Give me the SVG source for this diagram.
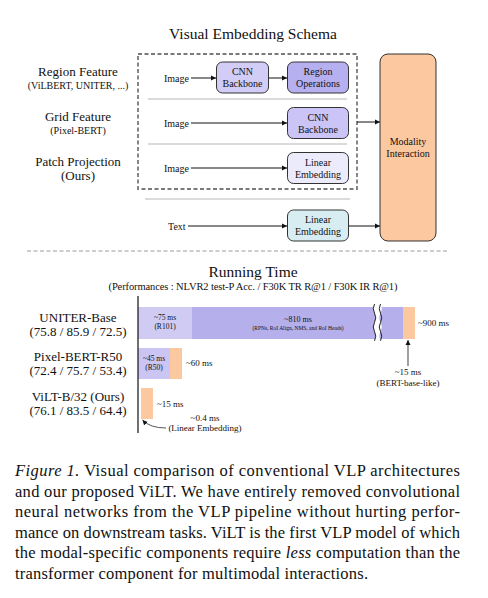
<svg xmlns="http://www.w3.org/2000/svg" width="488" height="598" viewBox="0 0 488 598" font-family="'Liberation Serif','Times New Roman','DejaVu Serif',serif">
<style>
text{font-family:"Liberation Serif","Times New Roman","DejaVu Serif",serif;fill:#111}
.t10{font-size:10px}
.lbl{font-size:13px;text-anchor:middle}
.sub{font-size:10px;text-anchor:middle}
.box{stroke:#333;stroke-width:1}
.c{text-anchor:middle}
.ln{stroke:#111;stroke-width:1;fill:none}
.sep{stroke:#cfcfcf;stroke-width:1.5}
.cap{font-size:16.5px}
</style>
<defs>
<marker id="ah" markerWidth="6" markerHeight="6" refX="5" refY="3" orient="auto" markerUnits="userSpaceOnUse">
<path d="M0,0.5 L5,3 L0,5.5 Z" fill="#111"/>
</marker>
</defs>
<rect width="488" height="598" fill="#fff"/>

<text x="253" y="39" font-size="15.5" text-anchor="middle">Visual Embedding Schema</text>

<g id="labels-left">
<text class="lbl" x="78" y="76">Region Feature</text>
<text class="sub" x="78" y="89">(ViLBERT, UNITER, ...)</text>
<text class="lbl" x="78" y="121">Grid Feature</text>
<text class="sub" x="78" y="134">(Pixel-BERT)</text>
<text class="lbl" x="78" y="166">Patch Projection</text>
<text class="lbl" x="78" y="180" font-size="12">(Ours)</text>
</g>

<rect id="visual-box" x="138" y="54" width="219" height="135" fill="none" stroke="#7a7a7a" stroke-width="1.8" stroke-dasharray="4,2.5"/>
<line class="sep" x1="148" y1="99" x2="347" y2="99"/>
<line class="sep" x1="148" y1="144" x2="347" y2="144"/>
<line class="sep" x1="145" y1="199" x2="350" y2="199"/>

<g id="connectors">
<line class="ln" x1="191" y1="78" x2="216" y2="78" marker-end="url(#ah)"/>
<line class="ln" x1="269" y1="78" x2="287" y2="78" marker-end="url(#ah)"/>
<line class="ln" x1="191" y1="123" x2="287" y2="123" marker-end="url(#ah)"/>
<line class="ln" x1="191" y1="168" x2="287" y2="168" marker-end="url(#ah)"/>
<line class="ln" x1="188" y1="226" x2="287" y2="226" marker-end="url(#ah)"/>
<line class="ln" x1="349" y1="226" x2="380" y2="226" marker-end="url(#ah)"/>
<line class="ln" x1="357" y1="122" x2="380" y2="122" marker-end="url(#ah)"/>
</g>

<g id="inputs" class="t10">
<text x="164" y="81.5">Image</text>
<text x="164" y="126.5">Image</text>
<text x="164" y="171.5">Image</text>
<text x="168" y="229.5">Text</text>
</g>

<g id="cnn1">
<rect class="box" x="216.5" y="62" width="52" height="31" rx="6" fill="#d2cdf6"/>
<text class="t10 c" x="242.5" y="75">CNN</text>
<text class="t10 c" x="242.5" y="87">Backbone</text>
</g>
<g id="regionops">
<rect class="box" x="287.5" y="62" width="61" height="31" rx="6" fill="#b6aff0"/>
<text class="t10 c" x="318" y="75">Region</text>
<text class="t10 c" x="318" y="87">Operations</text>
</g>
<g id="cnn2">
<rect class="box" x="287.5" y="107.5" width="61" height="31" rx="6" fill="#cbc4f6"/>
<text class="t10 c" x="318" y="120.5">CNN</text>
<text class="t10 c" x="318" y="132.5">Backbone</text>
</g>
<g id="linear-img">
<rect class="box" x="287.5" y="152.5" width="61" height="31" rx="6" fill="#ecebfc"/>
<text class="t10 c" x="318" y="165.5">Linear</text>
<text class="t10 c" x="318" y="177.5">Embedding</text>
</g>
<g id="linear-text">
<rect class="box" x="287.5" y="210" width="61" height="31" rx="6" fill="#d7edf1"/>
<text class="t10 c" x="318" y="223">Linear</text>
<text class="t10 c" x="318" y="235">Embedding</text>
</g>
<g id="modality">
<rect class="box" x="380" y="54" width="56" height="187" rx="8" fill="#fbc8a0"/>
<text class="t10 c" x="408" y="145">Modality</text>
<text class="t10 c" x="408" y="157">Interaction</text>
</g>

<line x1="27" y1="251" x2="448" y2="251" stroke="#bdbdbd" stroke-width="1.5" stroke-dasharray="4,2.5"/>

<text x="253" y="277" font-size="15.5" text-anchor="middle">Running Time</text>
<text x="253" y="290" font-size="10.5" text-anchor="middle" textLength="289" lengthAdjust="spacing">(Performances : NLVR2 test-P Acc. / F30K TR R@1 / F30K IR R@1)</text>

<g id="chart-labels">
<text class="lbl" x="78" y="322">UNITER-Base</text>
<text class="lbl" x="78" y="336">(75.8 / 85.9 / 72.5)</text>
<text class="lbl" x="78" y="361">Pixel-BERT-R50</text>
<text class="lbl" x="78" y="375">(72.4 / 75.7 / 53.4)</text>
<text class="lbl" x="78" y="401">ViLT-B/32 (Ours)</text>
<text class="lbl" x="78" y="415">(76.1 / 83.5 / 64.4)</text>
</g>

<g id="bars">
<rect x="138" y="307" width="54" height="32" fill="#cfcbf3"/>
<rect x="192" y="307" width="211" height="32" fill="#b5afec"/>
<rect x="403" y="307" width="12" height="32" fill="#fbc8a0"/>
<path d="M374.5,304 q-2.5,4.6 0,9.2 t0,9.2 t0,9.2 t0,9.2 L380.5,340.8 q-2.5,-4.6 0,-9.2 t0,-9.2 t0,-9.2 t0,-9.2 Z" fill="#fff"/>
<path d="M374.5,304 q-2.5,4.6 0,9.2 t0,9.2 t0,9.2 t0,9.2" fill="none" stroke="#222" stroke-width="1"/>
<path d="M380.5,304 q-2.5,4.6 0,9.2 t0,9.2 t0,9.2 t0,9.2" fill="none" stroke="#222" stroke-width="1"/>
<rect x="138" y="348" width="32" height="31" fill="#cbc5f3"/>
<rect x="170" y="348" width="12" height="31" fill="#fbc8a0"/>
<rect x="141" y="388" width="12" height="31" fill="#fbc8a0"/>
<line x1="138" y1="296" x2="138" y2="433" stroke="#111" stroke-width="1.2"/>
</g>

<g id="bar-text">
<text x="165" y="320" font-size="7.5" text-anchor="middle">~75 ms</text>
<text x="165" y="329" font-size="7.5" text-anchor="middle">(R101)</text>
<text x="298" y="322" font-size="8" text-anchor="middle">~810 ms</text>
<text x="298" y="330" font-size="5.5" text-anchor="middle">(RPNs, RoI Align, NMS, and RoI Heads)</text>
<text x="418" y="326" font-size="9">~900 ms</text>
<text x="154" y="361" font-size="7.5" text-anchor="middle">~45 ms</text>
<text x="154" y="370" font-size="7.5" text-anchor="middle">(R50)</text>
<text x="186" y="366" font-size="9">~60 ms</text>
<text x="157" y="407" font-size="9">~15 ms</text>
<text x="205" y="421" font-size="9" text-anchor="middle">~0.4 ms</text>
<text x="205" y="431" font-size="9" text-anchor="middle">(Linear Embedding)</text>
<text x="408" y="375" font-size="9" text-anchor="middle">~15 ms</text>
<text x="408" y="386" font-size="9" text-anchor="middle">(BERT-base-like)</text>
</g>

<g id="chart-arrows">
<line x1="408" y1="366" x2="408" y2="340" stroke="#888" stroke-width="1.6" marker-end="url(#ah)"/>
<path d="M166,428 Q150,428 142.5,420" fill="none" stroke="#555" stroke-width="1" marker-end="url(#ah)"/>
</g>

<g id="caption" class="cap">
<text x="15" y="476" textLength="445" lengthAdjust="spacing"><tspan font-style="italic">Figure 1.</tspan> Visual comparison of conventional VLP architectures</text>
<text x="15" y="497" textLength="445" lengthAdjust="spacing">and our proposed ViLT. We have entirely removed convolutional</text>
<text x="15" y="517" textLength="445" lengthAdjust="spacing">neural networks from the VLP pipeline without hurting perfor-</text>
<text x="15" y="538" textLength="445" lengthAdjust="spacing">mance on downstream tasks. ViLT is the first VLP model of which</text>
<text x="15" y="558" textLength="445" lengthAdjust="spacing">the modal-specific components require <tspan font-style="italic">less</tspan> computation than the</text>
<text x="15" y="579" textLength="353" lengthAdjust="spacing">transformer component for multimodal interactions.</text>
</g>
</svg>
